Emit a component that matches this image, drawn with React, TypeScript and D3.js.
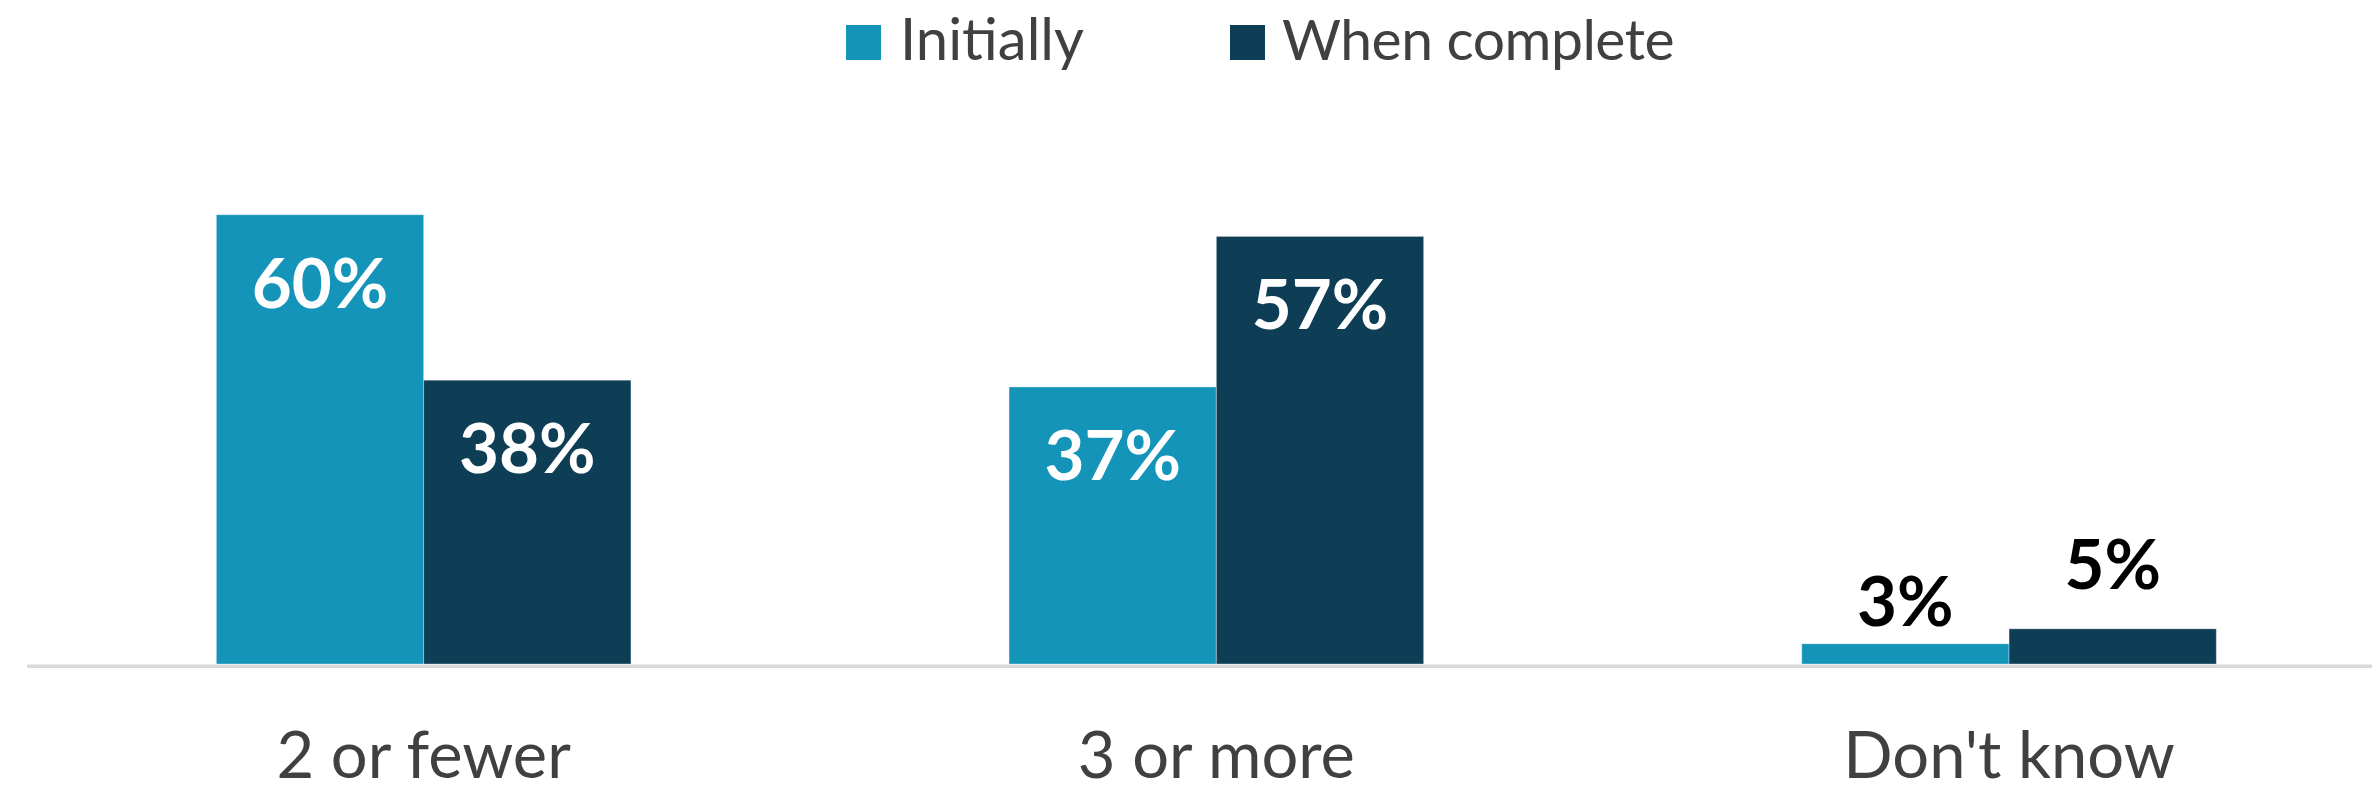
import React from "react";
import * as d3 from "d3";

const categories = ["2 or fewer", "3 or more", "Don't know"];
const seriesNames = ["Initially", "When complete"];
const initially = [60, 37, 2.7];
const whenComplete = [37.9, 57.1, 4.7];

const W = 2372;
const H = 791;
const COLORS = ["#1594BA", "#0E3D56"];
const FONT = "Lato, 'Source Sans Pro', sans-serif";
const TEXT = "#404040";

export default function App() {
  const values = [initially, whenComplete];
  const x = d3
    .scaleBand<string>()
    .domain(categories)
    .range([27.3, 2405.4])
    .paddingInner(0.477)
    .paddingOuter(0.2385);
  const xs = d3
    .scaleBand<string>()
    .domain(seriesNames)
    .range([0, x.bandwidth()])
    .padding(0);
  const y = d3.scaleLinear().domain([0, 60]).range([664, 214.7]);
  const base = y(0);
  const outsideOffset = [18, 40];

  return (
    <svg
      width={W}
      height={H}
      style={{ position: "absolute", left: 0, top: 0, display: "block", background: "#fff" }}
    >
      {/* legend */}
      <g fontFamily={FONT}>
        <rect x={846} y={25} width={35} height={35} fill={COLORS[0]} />
        <text x={900} y={60} fontSize={58} fill={TEXT}>
          {seriesNames[0]}
        </text>
        <rect x={1230} y={25} width={35} height={35} fill={COLORS[1]} />
        <text x={1282} y={60} fontSize={57} fill={TEXT} letterSpacing={-0.5}>
          {seriesNames[1]}
        </text>
      </g>

      {/* axis line */}
      <rect x={27} y={base + 0.5} width={W - 27} height={3.5} fill="#D9D9D9" />

      {/* bars */}
      {categories.map((c, ci) => (
        <g key={c} transform={`translate(${x(c)},0)`}>
          {seriesNames.map((s, si) => {
            const v = values[si][ci];
            const top = y(v);
            const bx = xs(s) as number;
            const bw = xs.bandwidth();
            const inside = base - top > 120;
            const label = `${Math.round(v)}%`;
            return (
              <g key={s}>
                <rect
                  x={bx}
                  y={top}
                  width={bw}
                  height={base - top}
                  fill={COLORS[si]}
                  stroke="rgba(255,255,255,0.35)"
                  strokeWidth={1}
                />
                <text
                  x={bx + bw / 2}
                  y={inside ? top + 93 : top - outsideOffset[si]}
                  textAnchor="middle"
                  fontFamily={FONT}
                  fontWeight={700}
                  fontSize={69}
                  fill={inside ? "#FFFFFF" : "#000000"}
                >
                  {label}
                </text>
              </g>
            );
          })}
          <text
            x={x.bandwidth() / 2}
            y={778}
            textAnchor="middle"
            fontFamily={FONT}
            fontSize={65}
            fill={TEXT}
          >
            {c}
          </text>
        </g>
      ))}
    </svg>
  );
}
